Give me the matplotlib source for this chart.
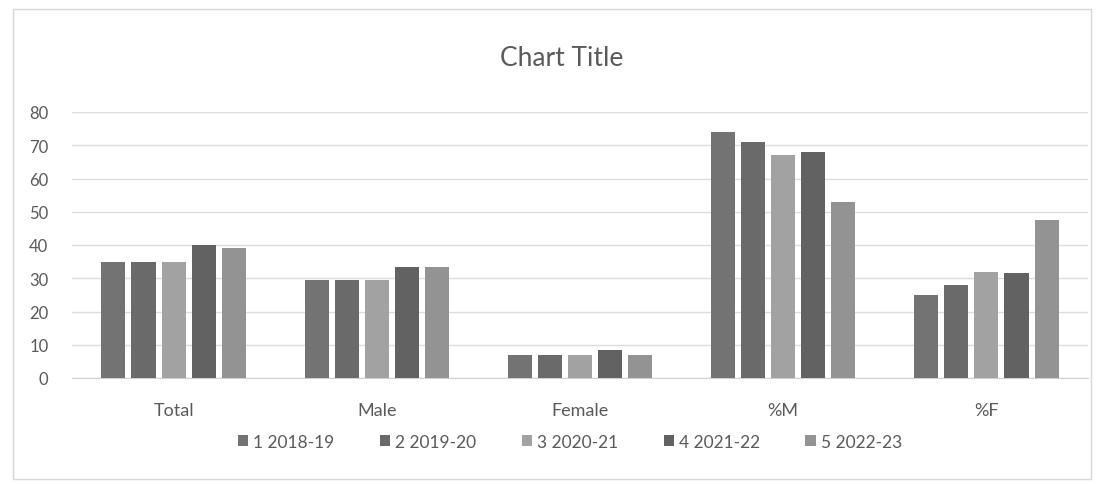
import matplotlib
matplotlib.use("Agg")
import matplotlib.pyplot as plt
from matplotlib.patches import Rectangle
import numpy as np

plt.rcParams["font.family"] = ["Lato", "DejaVu Sans"]

# categories and series values
CATEGORIES = ["Total", "Male", "Female", "%M", "%F"]
SERIES_NAMES = ["1 2018-19", "2 2019-20", "3 2020-21", "4 2021-22", "5 2022-23"]
Y_2018 = [35, 29.5, 7, 74, 25]
Y_2019 = [35, 29.5, 7, 71, 28]
Y_2020 = [35, 29.5, 6.8, 67, 32]
Y_2021 = [40, 33.5, 8.5, 68, 31.5]
Y_2022 = [39, 33.5, 7, 53, 47.5]
Y_TICKS = [0, 10, 20, 30, 40, 50, 60, 70, 80]

SERIES = [Y_2018, Y_2019, Y_2020, Y_2021, Y_2022]
COLORS = ["#737373", "#6a6a6a", "#a2a2a2", "#626262", "#939393"]
TEXT = "#5a5a5a"

fig = plt.figure(figsize=(11.07, 4.85), dpi=100)
fig.patch.set_facecolor("white")

# chart frame
fig.patches.append(Rectangle((13 / 1107, 5 / 485), 1078 / 1107, 470 / 485,
                             transform=fig.transFigure, fill=False,
                             edgecolor="#d6d6d6", linewidth=1.0))

ax = fig.add_axes([72 / 1107, 1 - 379 / 485, 1016 / 1107, 266 / 485])

x = np.arange(len(CATEGORIES))
n = len(SERIES)
group = 0.74
w = group / n
for i, (vals, name, col) in enumerate(zip(SERIES, SERIES_NAMES, COLORS)):
    offs = -group / 2 + w * (i + 0.5)
    ax.bar(x + offs, vals, width=w * 0.8, color=col, label=name, zorder=3)

ax.set_xlim(-0.5, len(CATEGORIES) - 0.5)
ax.set_ylim(0, 80)
ax.set_yticks(Y_TICKS)
ax.set_xticks(x)
ax.set_xticklabels(CATEGORIES, fontsize=13, color=TEXT)
ax.tick_params(axis="y", length=0, labelsize=12, labelcolor=TEXT, pad=17)
ax.tick_params(axis="x", length=0, pad=17)
ax.grid(axis="y", color="#dcdcdc", linewidth=1.0, zorder=0)
for s in ["top", "right", "left"]:
    ax.spines[s].set_visible(False)
ax.spines["bottom"].set_color("#d0d0d0")

fig.text(562 / 1107, 1 - 58 / 485, "Chart Title", ha="center", va="center",
         fontsize=19, color=TEXT)

leg = fig.legend(loc="center", bbox_to_anchor=(570 / 1107, 1 - 443 / 485),
                 ncol=5, frameon=False, fontsize=12.5, handlelength=0.6,
                 handleheight=0.6, handletextpad=0.3, columnspacing=2.6)
for t in leg.get_texts():
    t.set_color(TEXT)

fig.savefig("out.png", dpi=100)
